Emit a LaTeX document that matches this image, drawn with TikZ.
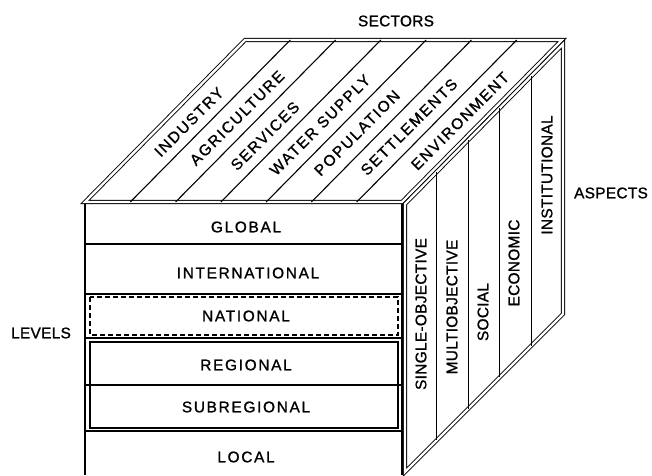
\documentclass[tikz,border=0pt]{standalone}
\usepackage{fontspec}
\setmainfont{Liberation Sans}
\newfontfamily\lvlfont[LetterSpace=11,FakeBold=1.2]{Liberation Sans}
\newfontfamily\aspfont[LetterSpace=2,FakeBold=1.2]{Liberation Sans}
\usetikzlibrary{calc}

\begin{document}
\begin{tikzpicture}[x=1pt,y=-1pt,
    faceline/.style={black, line width=0.9pt, double, double distance=2.4pt},
    rowline/.style={black, line width=1.1pt},
    lvl/.style={font=\lvlfont\fontsize{15.4}{17}\selectfont, inner sep=0pt},
    sect/.style={lvl, rotate=45},
    asp/.style={font=\aspfont\fontsize{15.4}{17}\selectfont, inner sep=0pt, rotate=90},
    dimlab/.style={font=\aspfont\fontsize{15.4}{17}\selectfont, inner sep=0pt}]
    \useasboundingbox (0,0) rectangle (652,475);

    % corners of the cube
    \coordinate (tfl) at (85,202);
    \coordinate (tfr) at (402,202);
    \coordinate (tbr) at (562,40);
    \coordinate (tbl) at (245,40);
    \coordinate (sft) at (405,204);
    \coordinate (sfb) at (405,472);
    \coordinate (sbb) at (563,314);
    \coordinate (sbt) at (563,44);
    \coordinate (ffl) at (85,475);
    \coordinate (ffr) at (402,475);

    % front face: levels
    \foreach \y in {244,294,338,385,431}
        \draw[rowline] (85,\y) -- (402,\y);
    \draw[rowline, dash pattern=on 5pt off 3pt] (90,297) rectangle (398,335);
    \draw[black, line width=1.6pt] (90,342) rectangle (398,428);
    \draw[black, line width=1.3pt] (tfl) -- (ffl);
    \draw[black, line width=1.7pt] (tfr) -- (ffr);

    % top and side faces
    \draw[faceline] (tfl) -- (tfr) -- (tbr) -- (tbl) -- cycle;
    \draw[faceline] (sft) -- (sfb) -- (sbb) -- (sbt) -- cycle;
    \foreach \k in {1,...,6}
        \draw[rowline] ($(tfl)!\k/7!(tfr)$) -- ($(tbl)!\k/7!(tbr)$);
    \foreach \k in {1,...,4}
        \draw[rowline] ($(sft)!\k/5!(sbt)$) -- ($(sfb)!\k/5!(sbb)$);

    \node[lvl] (global) at (246,227) {GLOBAL};
    \node[lvl] (intl) at (248,273) {INTERNATIONAL};
    \node[lvl] (national) at (246,316) {NATIONAL};
    \node[lvl] (regional) at (246,365) {REGIONAL};
    \node[lvl] (subregional) at (246,407) {SUBREGIONAL};
    \node[lvl] (local) at (246,457) {LOCAL};

    \node[sect] (industry) at (189,122) {INDUSTRY};
    \node[sect] (agri) at (237,118) {AGRICULTURE};
    \node[sect] (services) at (265,136) {SERVICES};
    \node[sect] (water) at (320,125) {WATER SUPPLY};
    \node[sect] (population) at (357,133) {POPULATION};
    \node[sect] (settle) at (409,127) {SETTLEMENTS};
    \node[sect] (environ) at (460,121) {ENVIRONMENT};

    \node[asp] (single) at (421,314) {SINGLE-OBJECTIVE};
    \node[asp] (multi) at (452,307) {MULTIOBJECTIVE};
    \node[asp] (social) at (483,312) {SOCIAL};
    \node[asp] (economic) at (514,263) {ECONOMIC};
    \node[asp] (instit) at (547,175) {INSTITUTIONAL};

    \node[dimlab] (sectors) at (396,21) {SECTORS};
    \node[dimlab] (aspects) at (611,193) {ASPECTS};
    \node[dimlab] (levels) at (41,333) {LEVELS};
\end{tikzpicture}
\end{document}
